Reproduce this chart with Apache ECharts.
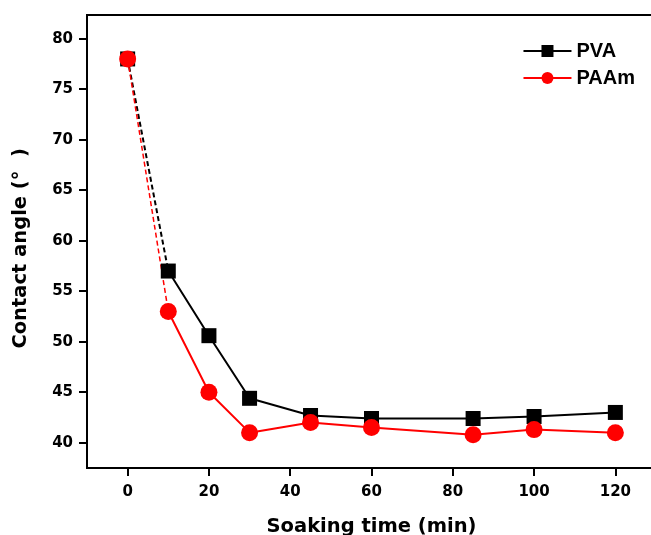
<!DOCTYPE html>
<html>
<head>
<meta charset="utf-8">
<script src="https://cdn.jsdelivr.net/npm/echarts@6/dist/echarts.min.js"></script>
<style>
  html, body { margin: 0; padding: 0; background: #fff; }
  #chart { width: 651px; height: 535px; }
</style>
</head>
<body>
<div id="chart"></div>
<script>
// soaking time (min)
const times = [0, 10, 20, 30, 45, 60, 85, 100, 120];
// contact angle (deg)
const pva = [78, 57, 50.6, 44.4, 42.7, 42.4, 42.4, 42.6, 43];
const paam = [78, 53, 45, 41, 42, 41.5, 40.8, 41.3, 41];
const xTicks = [0, 20, 40, 60, 80, 100, 120];
const yTicks = [40, 45, 50, 55, 60, 65, 70, 75, 80];

const chart = echarts.init(document.getElementById("chart"));

function pairs(ys, from, to) {
    var out = [];
    for (var i = from; i < to; i++) {
        out.push([times[i], ys[i]]);
    }
    return out;
}

// first segment is dashed, marker only on the first point
function dashedPart(ys) {
    var d = pairs(ys, 0, 2);
    d[1] = {value: d[1], symbol: "none"};
    return d;
}

const labelFont = {fontFamily: "DejaVu Sans", fontWeight: "bold", color: "#000"};

chart.setOption({
    animation: false,
    grid: {
        left: 87,
        top: 15,
        width: 569,
        height: 453,
        outerBoundsMode: "none",
        containLabel: false,
        show: true,
        borderColor: "#000",
        borderWidth: 2
    },
    legend: {
        data: ["PVA", "PAAm"],
        orient: "vertical",
        right: 11,
        top: 36,
        itemWidth: 48,
        itemHeight: 15,
        itemGap: 7,
        textStyle: {fontFamily: "Liberation Sans", fontWeight: "bold", fontSize: 20, color: "#000"}
    },
    xAxis: {
        type: "value",
        min: -10,
        max: 130,
        name: "Soaking time (min)",
        nameLocation: "middle",
        nameGap: 49,
        nameTextStyle: Object.assign({fontSize: 19.5}, labelFont),
        splitLine: {show: false},
        axisLine: {onZero: false, lineStyle: {color: "#000", width: 2}},
        axisTick: {length: 8, lineStyle: {width: 2}, customValues: xTicks},
        axisLabel: Object.assign({fontSize: 15, margin: 17, customValues: xTicks}, labelFont)
    },
    yAxis: {
        type: "value",
        min: 37.5,
        max: 82.35,
        name: "Contact angle (°  )  ",
        nameLocation: "middle",
        nameGap: 56,
        nameTextStyle: Object.assign({fontSize: 19.5}, labelFont),
        splitLine: {show: false},
        axisLine: {show: true, onZero: false, lineStyle: {color: "#000", width: 2}},
        axisTick: {show: true, length: 8, lineStyle: {width: 2}, customValues: yTicks},
        axisLabel: Object.assign({fontSize: 15, margin: 14, customValues: yTicks}, labelFont)
    },
    series: [
        {
            name: "PVA-dash",
            type: "line",
            data: dashedPart(pva),
            symbol: "rect",
            symbolSize: 15,
            itemStyle: {color: "#000"},
            lineStyle: {color: "#000", width: 2, type: [5, 3]},
            silent: true
        },
        {
            name: "PAAm-dash",
            type: "line",
            data: dashedPart(paam),
            symbol: "circle",
            symbolSize: 17,
            itemStyle: {color: "#ff0000"},
            lineStyle: {color: "#ff0000", width: 1.5, type: [5, 3]},
            silent: true
        },
        {
            name: "PVA",
            type: "line",
            data: pairs(pva, 1, times.length),
            symbol: "rect",
            symbolSize: 15,
            itemStyle: {color: "#000"},
            lineStyle: {color: "#000", width: 2}
        },
        {
            name: "PAAm",
            type: "line",
            data: pairs(paam, 1, times.length),
            symbol: "circle",
            symbolSize: 17,
            itemStyle: {color: "#ff0000"},
            lineStyle: {color: "#ff0000", width: 2}
        }
    ]
});
</script>
</body>
</html>
